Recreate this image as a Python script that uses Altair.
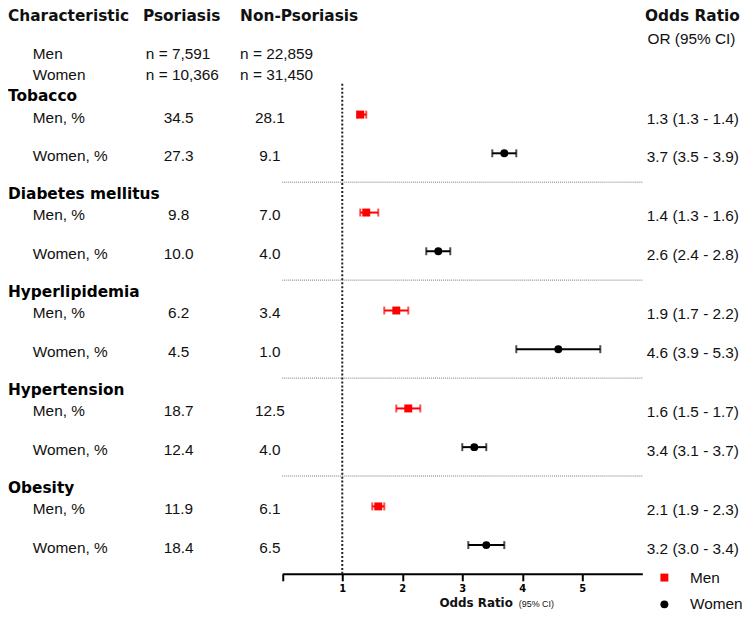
import altair as alt
import pandas as pd

# ---- data ----
sections = ["Tobacco", "Diabetes mellitus", "Hyperlipidemia", "Hypertension", "Obesity"]
men_pso = ["34.5", "9.8", "6.2", "18.7", "11.9"]
men_non = ["28.1", "7.0", "3.4", "12.5", "6.1"]
women_pso = ["27.3", "10.0", "4.5", "12.4", "18.4"]
women_non = ["9.1", "4.0", "1.0", "4.0", "6.5"]
men_or_label = ["1.3 (1.3 - 1.4)", "1.4 (1.3 - 1.6)", "1.9  (1.7 - 2.2)", "1.6 (1.5 - 1.7)", "2.1 (1.9 - 2.3)"]
women_or_label = ["3.7 (3.5 - 3.9)", "2.6 (2.4 - 2.8)", "4.6 (3.9 - 5.3)", "3.4 (3.1 - 3.7)", "3.2 (3.0 - 3.4)"]
# plotted positions as drawn in the figure
men_or = [1.3, 1.4, 1.9, 2.1, 1.6]
men_lo = [1.25, 1.3, 1.7, 1.9, 1.5]
men_hi = [1.4, 1.6, 2.1, 2.3, 1.7]
women_or = [3.7, 2.6, 4.6, 3.2, 3.4]
women_lo = [3.5, 2.4, 3.9, 3.0, 3.1]
women_hi = [3.9, 2.8, 5.3, 3.4, 3.7]
n_groups = ["Men", "Women"]
n_pso = ["n = 7,591", "n = 10,366"]
n_non = ["n = 22,859", "n = 31,450"]
tick_values = [0, 1, 2, 3, 4, 5]

# ---- layout constants ----
WOMEN_OFF = 0.395
HDR_OFF = -0.19
SEP_OFF = 0.69
H = 568

rows = []
for i, s in enumerate(sections):
    rows.append(dict(sec=s, sex="Men", pos=i, label="Men, %", pso=men_pso[i], non=men_non[i],
                     orlab=men_or_label[i], OR=men_or[i], lo=men_lo[i], hi=men_hi[i]))
    rows.append(dict(sec=s, sex="Women", pos=i + WOMEN_OFF, label="Women, %", pso=women_pso[i],
                     non=women_non[i], orlab=women_or_label[i], OR=women_or[i], lo=women_lo[i],
                     hi=women_hi[i]))
df = pd.DataFrame(rows)
hdr = pd.DataFrame({"sec": sections, "pos": [i + HDR_OFF for i in range(len(sections))]})
sep = pd.DataFrame({"pos": [i + SEP_OFF for i in range(len(sections) - 1)], "x0": 0, "x1": 6})
ref = pd.DataFrame({"OR": [1]})

xscale = alt.Scale(domain=[0, 6], range=[276.5, 639.5], nice=False, zero=False)
yscale = alt.Scale(domain=[-1.0633, 4.6886], range=[0, H], nice=False, zero=False)
xaxis = alt.Axis(values=tick_values, labelExpr="datum.value == 0 ? '' : datum.label", title=None,
                 grid=False, domainColor="black", domainWidth=2, tickColor="black", tickWidth=2,
                 tickSize=7, labelFont="DejaVu Sans", labelFontWeight="bold", labelFontSize=10,
                 labelColor="black", labelPadding=3)
Y = alt.Y("pos:Q", scale=yscale, axis=None)
sex_col = alt.condition("datum.sex == 'Men'", alt.value("#ff0000"), alt.value("#000000"))

REG = "Liberation Sans"
BOLD = "DejaVu Sans"
TXT = "#111111"
FS = 15.5


def label(txt, x, y, align="left", font=REG, size=FS, weight="normal"):
    return alt.Chart(pd.DataFrame({"t": [txt]})).mark_text(
        align=align, baseline="middle", font=font, fontSize=size, fontWeight=weight, color=TXT
    ).encode(x=alt.value(x), y=alt.value(y), text="t:N")


leg = alt.Legend(orient="none", legendX=654, legendY=564, title=None, labelFont=REG,
                 labelFontSize=FS, labelColor=TXT, symbolSize=64, symbolStrokeWidth=0,
                 rowPadding=10, labelOffset=18, padding=0)

sep_layer = alt.Chart(sep).mark_rule(strokeWidth=1, color="#777777", strokeDash=[1, 1]).encode(
    x=alt.X("x0:Q", scale=xscale, axis=xaxis), x2="x1:Q", y=Y)
ref_layer = alt.Chart(ref).mark_rule(strokeWidth=2, color="#222222", strokeDash=[2, 2]).encode(
    x=alt.X("OR:Q", scale=xscale, axis=xaxis), y=alt.value(74), y2=alt.value(H))
err = alt.Chart(df).mark_rule(strokeWidth=2).encode(
    x=alt.X("lo:Q", scale=xscale, axis=xaxis), x2="hi:Q", y=Y, color=sex_col)
cap_lo = alt.Chart(df).mark_tick(orient="vertical", size=8, thickness=2).encode(
    x=alt.X("lo:Q", scale=xscale, axis=xaxis), y=Y, color=sex_col)
cap_hi = alt.Chart(df).mark_tick(orient="vertical", size=8, thickness=2).encode(
    x=alt.X("hi:Q", scale=xscale, axis=xaxis), y=Y, color=sex_col)
pts = alt.Chart(df).mark_point(filled=True, opacity=1, size=64).encode(
    x=alt.X("OR:Q", scale=xscale, axis=xaxis), y=Y,
    color=alt.Color("sex:N", scale=alt.Scale(domain=["Men", "Women"], range=["#ff0000", "#000000"]), legend=leg),
    shape=alt.Shape("sex:N", scale=alt.Scale(domain=["Men", "Women"], range=["square", "circle"]), legend=leg))

txt_base = dict(baseline="middle", font=REG, fontSize=FS, color=TXT)
lab = alt.Chart(df).mark_text(align="left", dy=3, **txt_base).encode(x=alt.value(25), y=Y, text="label:N")
pso = alt.Chart(df).mark_text(align="center", dy=3, **txt_base).encode(x=alt.value(172), y=Y, text="pso:N")
non = alt.Chart(df).mark_text(align="center", dy=3, **txt_base).encode(x=alt.value(264), y=Y, text="non:N")
orl = alt.Chart(df).mark_text(align="left", dy=4, **txt_base).encode(x=alt.value(644), y=Y, text="orlab:N")
hdr_layer = alt.Chart(hdr).mark_text(align="left", baseline="middle", font=BOLD, fontWeight="bold",
                                     fontSize=15.5, color="black").encode(x=alt.value(0), y=Y, text="sec:N")

n_rows = []
for r in range(2):
    yy = 44 + 21 * r
    n_rows.append(label(n_groups[r], 25, yy))
    n_rows.append(label(n_pso[r], 139, yy))
    n_rows.append(label(n_non[r], 234, yy))

heads = [
    label("Characteristic", 0, 6, font=BOLD, size=15.5, weight="bold"),
    label("Psoriasis", 136, 6, font=BOLD, size=15.5, weight="bold"),
    label("Non-Psoriasis", 234, 6, font=BOLD, size=15.5, weight="bold"),
    label("Odds Ratio", 690, 6, align="center", font=BOLD, size=15.5, weight="bold"),
    label("OR (95% CI)", 689, 29, align="center"),
    label("Odds Ratio", 509, 597, align="right", font=BOLD, size=12, weight="bold"),
    label("(95% CI)", 515, 598, size=9),
]

chart = alt.layer(
    sep_layer, ref_layer, err, cap_lo, cap_hi, pts, lab, pso, non, orl, hdr_layer, *n_rows, *heads
).properties(
    width=740, height=H, autosize="none",
    padding={"left": 0, "top": 0, "right": 0, "bottom": 38},
).configure_view(stroke=None)

chart.save("out.html", embed_options={"renderer": "svg", "actions": False})
